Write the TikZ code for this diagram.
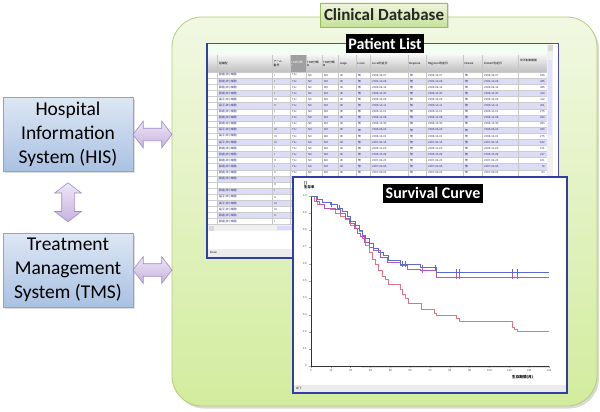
\documentclass[tikz,border=0pt]{standalone}
\usepackage{fontspec}
\setmainfont{Carlito}
\newfontfamily\jpfont{Noto Sans CJK JP}
\newfontfamily\uifont{Liberation Sans}
\usetikzlibrary{shapes.arrows,shadows,calc}

\begin{document}
\begin{tikzpicture}[x=1pt,y=-1pt]
  \definecolor{dbtop}{HTML}{F1F8E2}
  \definecolor{dbbot}{HTML}{D2EC9E}
  \definecolor{dbline}{HTML}{B3CC7E}
  \definecolor{tagtop}{HTML}{EEF5DC}
  \definecolor{tagbot}{HTML}{C6E19A}
  \definecolor{tagline}{HTML}{9BBB59}
  \definecolor{sysi}{HTML}{DDE7F4}
  \definecolor{syso}{HTML}{A9C1E2}
  \definecolor{sysline}{HTML}{87A5D2}
  \definecolor{arri}{HTML}{EEE6F6}
  \definecolor{arro}{HTML}{C6B3DE}
  \definecolor{arrline}{HTML}{A08AC6}
  \definecolor{winline}{HTML}{2E3FA8}
  \definecolor{rowi}{HTML}{DCDCF4}
  \definecolor{cellt}{HTML}{2A2A7A}
  \definecolor{kmblue}{HTML}{5B6BD0}
  \definecolor{kmpurple}{HTML}{B856B4}
  \definecolor{kmred}{HTML}{E27585}
  \tikzset{
    sysbox/.style={draw=sysline, line width=0.8pt, top color=sysi, bottom color=syso,
      minimum width=130, minimum height=74, align=center, text=black,
      font=\fontsize{19.5}{24}\selectfont,
      drop shadow={shadow xshift=1.5pt, shadow yshift=-1.5pt, opacity=0.25}},
    dblarrow/.style={double arrow, draw=arrline, line width=0.6pt, top color=arri, bottom color=arro,
      minimum height=39, inner sep=0pt, inner ysep=6pt, double arrow head extend=7pt,
      double arrow tip angle=105},
    blacktag/.style={fill=black, text=white, font=\fontsize{16}{16}\selectfont\bfseries,
      inner xsep=2.5pt, inner ysep=0pt, minimum height=19},
    tiny/.style={font=\uifont\fontsize{2.8}{3}\selectfont, inner sep=0pt, text=cellt},
    jtiny/.style={font=\jpfont\fontsize{2.8}{3.2}\selectfont, inner sep=0pt, text=cellt, align=left}
  }
  \useasboundingbox (0,0) rectangle (600,412);

  % database area
  \node[draw=dbline, line width=0.8pt, top color=dbtop, bottom color=dbbot, rounded corners=30,
    minimum width=425, minimum height=389,
    drop shadow={shadow xshift=2pt, shadow yshift=-2.5pt, opacity=0.3}] (db) at (384.5,211.5) {};
  \node[draw=tagline, line width=0.7pt, top color=tagtop, bottom color=tagbot, minimum width=122,
    minimum height=24, text=black!85, font=\fontsize{17}{17}\selectfont\bfseries,
    drop shadow={shadow xshift=1.5pt, shadow yshift=-1.5pt, opacity=0.25}] (dbtag) at (384,15) {Clinical Database};

  % patient list window
  \fill[white] (207,43) rectangle (558,258);
  \fill[green!6!white] (208,44) rectangle (553,55);
  \shade[top color=gray!8, bottom color=gray!50] (208,55) rectangle (547,72);
  \fill[gray!75] (290,55) rectangle (306,72);
  \foreach \i in {2,4,...,24} \fill[rowi] (217,{72+(\i-1)*6.1}) rectangle (547,{72+\i*6.1});
  \foreach \i in {0,...,25} \draw[gray!40, line width=0.2pt] (208,{72+\i*6.1}) -- (547,{72+\i*6.1});
  \foreach \cx in {217,272,290,306,322,338,356,370,408,426,463,482,518}
    \draw[gray!45, line width=0.3pt] (\cx,55) -- (\cx,224.5);
  \node[jtiny, anchor=west, text=black] (h1) at (219,63.5) {組織型};
  \node[jtiny, anchor=west, text=black] (h2) at (273.5,63.5) {アーム\\番号};
  \node[jtiny, anchor=west, text=white] (h3) at (291,63.5) {TNM分類\\T};
  \node[jtiny, anchor=west, text=black] (h4) at (307,63.5) {TNM分類\\N};
  \node[jtiny, anchor=west, text=black] (h5) at (323,63.5) {TNM分類\\M};
  \node[tiny, anchor=west, text=black] (h6) at (340,63.5) {stage};
  \node[tiny, anchor=west, text=black] (h7) at (357.5,63.5) {Local};
  \node[jtiny, anchor=west, text=black] (h8) at (372,63.5) {Local判定日};
  \node[tiny, anchor=west, text=black] (h9) at (409,63.5) {Regional};
  \node[jtiny, anchor=west, text=black] (h10) at (428,63.5) {Regional判定日};
  \node[tiny, anchor=west, text=black] (h11) at (464.5,63.5) {Distant};
  \node[jtiny, anchor=west, text=black] (h12) at (484,63.5) {Distant判定日};
  \node[jtiny, anchor=west, text=black] (h13) at (520,60) {局所制御期間};
  \foreach \i/\nm/\arm/\dt/\dur in {1/{腺癌,非小細胞}/I/2006-12-07/546, 2/{腺癌,非小細胞}/I/2006-12-06/485,
      3/{腺癌,非小細胞}/I/2006-09-14/395, 4/{腺癌,非小細胞}/I/2006-10-30/410,
      5/{扁平,非小細胞}/III/2006-10-23/412, 6/{扁平,非小細胞}/II/2006-10-11/301,
      7/{腺癌,非小細胞}/I/2006-11-01/275, 8/{腺癌,非小細胞}/I/2006-12-08/290,
      9/{腺癌,非小細胞}/I/2006-10-30/283, 10/{扁平,非小細胞}/III/2006-09-22/330,
      11/{扁平,非小細胞}/III/2006-12-01/275, 12/{扁平,非小細胞}/III/2007-02-14/162,
      13/{腺癌,非小細胞}/I/2006-11-20/271, 14/{腺癌,非小細胞}/I/2006-10-26/217,
      15/{腺癌,非小細胞}/II/2007-02-23/101, 16/{腺癌,非小細胞}/I/2007-02-05/79,
      17/{腺癌,非小細胞}/II/2007-03-01/64, 18/{腺癌,非小細胞}/I/2006-11-15/301,
      19/{}/II/2006-12-20/238, 20/{腺癌,非小細胞}/I/2007-01-10/190,
      21/{扁平,非小細胞}/II/2006-10-05/322, 22/{扁平,非小細胞}/III/2006-11-28/260,
      23/{扁平,非小細胞}/III/2007-01-24/175, 24/{腺癌,非小細胞}/II/2006-12-14/244,
      25/{腺癌,非小細胞}/I/2007-02-02/130} {
    \pgfmathsetmacro{\ry}{72+(\i-0.5)*6.1}
    \node[jtiny, anchor=west] (nm\i) at (219,\ry) {\nm};
    \node[tiny, anchor=west] (arm\i) at (274,\ry) {\arm};
    % rows under the survival window only show their first columns
    \ifnum\i<18
      \node[tiny, anchor=west] (t\i) at (292,\ry) {T1c};
      \node[tiny, anchor=west] (n\i) at (308,\ry) {N0};
      \node[tiny, anchor=west] (m\i) at (324,\ry) {M0};
      \node[tiny, anchor=west] (st\i) at (340,\ry) {IB};
      \node[jtiny, anchor=west] (lc\i) at (358,\ry) {無};
      \node[tiny, anchor=west] (ld\i) at (372,\ry) {\dt};
      \node[jtiny, anchor=west] (rg\i) at (410,\ry) {無};
      \node[tiny, anchor=west] (rd\i) at (428,\ry) {\dt};
      \node[jtiny, anchor=west] (ds\i) at (465,\ry) {無};
      \node[tiny, anchor=west] (dd\i) at (484,\ry) {\dt};
      \node[tiny, anchor=east] (du\i) at (545,\ry) {\dur};
    \fi
  }
  \fill[gray!12] (547,44) rectangle (553,225);
  \fill[blue!12] (548,60) rectangle (552,135);
  \fill[gray!30] (547.5,45) rectangle (552.5,51);
  \fill[gray!12] (208,225) rectangle (547,231);
  \fill[blue!15] (277,226) rectangle (293,230);
  \fill[gray!30] (208.5,225.5) rectangle (214,230.5);
  \fill[gray!15] (208,249) rectangle (557,257);
  \node[tiny, anchor=west, text=black] (pldone) at (210,253) {Done};
  \draw[gray!60!blue, line width=0.8pt] (207,43) rectangle (558,258);
  \draw[winline, line width=1.2pt] (207,43) -- (207,258) -- (558,258);
  \node[blacktag] (pltag) at (385,44) {Patient List};

  % survival curve window
  \fill[white] (293,177) rectangle (567,393);
  \fill[gray!15] (294,385) rectangle (566,392);
  \node[jtiny, anchor=west, text=black] (svdone) at (296,388.5) {完了};
  \draw[winline, line width=1.2pt] (293,177) rectangle (567,393);
  \node[jtiny, anchor=west, text=black, font=\jpfont\fontsize{3.4}{3.6}\selectfont\bfseries] (ylab) at (304,185) {[]\\生存率};
  \node[jtiny, anchor=west, text=black, font=\jpfont\fontsize{3.6}{4}\selectfont\bfseries] (xlab) at (512,377.5) {生存期間(月)};
  \begin{scope}[shift={(311,366)}, x=1.653pt, y=170pt]
    \foreach \k/\lab in {0/0,1/0.1,2/0.2,3/0.3,4/0.4,5/0.5,6/0.6,7/0.7,8/0.8,9/0.9,10/1.0} {
      \draw[gray!70, line width=0.4pt] (0,\k/10) -- (-1.2,\k/10);
      \node[tiny, anchor=east, text=black!70] (yt\k) at (-2.5,\k/10) {\lab};
    }
    \foreach \mo in {0,12,...,144} {
      \draw[gray!70, line width=0.4pt] (\mo,0) -- (\mo,-0.014);
      \node[tiny, anchor=north, text=black!70] (xt\mo) at (\mo,-0.02) {\mo};
    }
    \draw[yellow!70!orange, opacity=0.5, line width=0.6pt] (30,-0.006) -- (144,-0.006);
    \draw[gray!40!black, line width=0.7pt] (0,1.0) -- (0,0) -- (144,0);
    \draw[kmred, line width=0.7pt] plot[const plot] coordinates {(0,1) (2,0.97) (4,0.95) (8,0.93)
      (12,0.92) (15,0.90) (18,0.88) (21,0.86) (24,0.83) (27,0.81) (29,0.79) (31,0.75) (33,0.71)
      (35,0.67) (37,0.63) (39,0.60) (41,0.56) (43,0.53) (45,0.51) (46.5,0.48)
      (54,0.45) (55.5,0.42) (57,0.40) (59,0.37) (66.5,0.335) (74.5,0.31) (76,0.30) (88,0.28)
      (89.5,0.26) (121.6,0.225) (123,0.215) (125,0.205) (144,0.205)};
    \draw[kmpurple, line width=0.7pt] plot[const plot] coordinates {(0,1) (3,0.97) (5,0.95) (8,0.93)
      (15,0.92) (18,0.90) (21,0.87) (23,0.84) (26,0.81) (28,0.78) (30,0.76) (32,0.73) (35,0.70)
      (38,0.68) (42,0.64) (46,0.61) (54,0.59) (58,0.57) (66,0.56) (76,0.524) (144,0.524)};
    \draw[kmblue, line width=0.7pt] plot[const plot] coordinates {(0,1) (4,0.98) (7,0.96) (12,0.95)
      (16,0.93) (19,0.91) (22,0.88) (24,0.85) (27,0.83) (29,0.80) (31,0.77) (33,0.75) (35,0.72)
      (38,0.69) (41,0.67) (44,0.65) (47,0.62) (54,0.60) (66,0.58) (76,0.553) (144,0.553)};
    \foreach \mo/\s in {12/0.95,17/0.93,55/0.60,57/0.60,67/0.58,75/0.58,88/0.553,89.5/0.553,122/0.553,125/0.553}
      \draw[kmblue, line width=0.5pt] (\mo,\s-0.015) -- (\mo,\s+0.015);
    \foreach \mo/\s in {67/0.56,88/0.524,89.5/0.524,122/0.524,125/0.524}
      \draw[kmpurple, line width=0.5pt] (\mo,\s-0.015) -- (\mo,\s+0.015);
  \end{scope}
  \node[blacktag] (svtag) at (433,193) {Survival Curve};

  % systems
  \node[sysbox] (his) at (68,134.5) {Hospital\\Information\\System (HIS)};
  \node[sysbox] (tms) at (68,270) {Treatment\\Management\\System (TMS)};
  \node[dblarrow] (hisdb) at ($(his.east)!0.5!(his.east -| db.west)$) {};
  \node[dblarrow] (tmsdb) at ($(tms.east)!0.5!(tms.east -| db.west)$) {};
  \node[dblarrow, rotate=90] (histms) at ($(his.south)!0.5!(tms.north)$) {};
\end{tikzpicture}
\end{document}
